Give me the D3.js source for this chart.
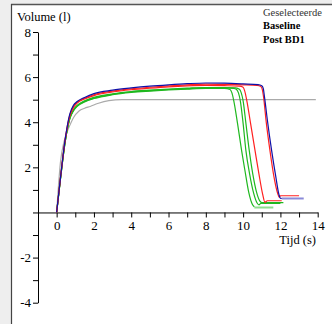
<!DOCTYPE html>
<html>
<head>
<meta charset="utf-8">
<script src="https://cdn.jsdelivr.net/npm/d3@7"></script>
<style>
  body { margin: 0; background: #eeeeee; }
</style>
</head>
<body>
<svg id="chart" width="332" height="324"></svg>
<script>
// tick values
const xTicks = d3.range(0, 15);
const yTicks = d3.range(-4, 9);

// predicted curve (grey)
const greyTime = [0, 0.1, 0.2, 0.4, 0.7, 0.9, 1.2, 1.5, 1.8, 2.2, 2.8, 3.5, 13.9];
const greyVol = [0, 1.2, 2.2, 3.15, 3.85, 4.2, 4.5, 4.62, 4.7, 4.83, 4.96, 5.0, 5.0];

// baseline curves
const blueTime = [0, 0.2, 0.45, 0.7, 0.9, 1.1, 1.5, 2, 3, 4, 5, 6, 7, 8, 9, 10, 10.8, 11.0, 11.08, 11.15, 11.3, 11.53, 11.75, 11.92, 12.0, 12.07];
const blueVol = [0, 1.5, 3.2, 4.35, 4.75, 4.92, 5.1, 5.27, 5.42, 5.52, 5.6, 5.66, 5.71, 5.74, 5.73, 5.7, 5.67, 5.62, 5.5, 5.1, 4.1, 2.74, 1.6, 0.8, 0.63, 0.62];
const blueTailTime = [12.07, 13.25];
const blueTailVol = [0.62, 0.62];

const redATime = [0, 0.2, 0.45, 0.7, 0.9, 1.1, 1.5, 2, 3, 4, 5, 6, 7, 8, 9, 10, 10.75, 10.95, 11.03, 11.1, 11.22, 11.44, 11.65, 11.85, 11.94, 12.0, 13.0];
const redAVol = [0, 1.5, 3.2, 4.3, 4.7, 4.88, 5.06, 5.22, 5.38, 5.48, 5.55, 5.61, 5.66, 5.69, 5.68, 5.66, 5.63, 5.58, 5.45, 5.1, 4.15, 2.74, 1.6, 0.85, 0.67, 0.74, 0.74];

const redBTime = [0, 0.2, 0.45, 0.7, 0.9, 1.1, 1.5, 2, 3, 4, 5, 6, 7, 8, 9, 9.8, 10.0, 10.08, 10.2, 10.4, 10.64, 10.85, 11.05, 11.17, 11.3, 12.07];
const redBVol = [0, 1.5, 3.15, 4.25, 4.65, 4.85, 5.03, 5.18, 5.34, 5.44, 5.51, 5.57, 5.61, 5.63, 5.62, 5.6, 5.55, 5.4, 4.95, 3.95, 2.74, 1.7, 0.8, 0.45, 0.52, 0.52];

// post BD1 curves
const green1Time = [0, 0.2, 0.45, 0.7, 0.9, 1.1, 1.5, 2, 3, 4, 5, 6, 7, 8, 9.0, 9.3, 9.4, 9.5, 9.7, 9.92, 10.1, 10.3, 10.5, 10.6];
const green1Vol = [0, 1.45, 3.1, 4.15, 4.5, 4.7, 4.9, 5.05, 5.22, 5.32, 5.38, 5.43, 5.47, 5.5, 5.5, 5.45, 5.3, 4.95, 3.95, 2.74, 1.85, 0.9, 0.35, 0.25];
const green1TailTime = [10.6, 11.62];
const green1TailVol = [0.22, 0.22];

const green2Time = [0, 0.2, 0.45, 0.7, 0.9, 1.1, 1.5, 2, 3, 4, 5, 6, 7, 8, 9.0, 9.5, 9.65, 9.75, 9.85, 10.0, 10.15, 10.35, 10.55, 10.75, 10.85, 10.95, 12.0];
const green2Vol = [0, 1.45, 3.1, 4.15, 4.52, 4.72, 4.92, 5.07, 5.24, 5.34, 5.4, 5.45, 5.49, 5.52, 5.52, 5.5, 5.45, 5.3, 4.95, 3.95, 2.74, 1.7, 0.9, 0.42, 0.34, 0.4, 0.4];

const green3Time = [0, 0.2, 0.45, 0.7, 0.9, 1.1, 1.5, 2, 3, 4, 5, 6, 7, 8, 9.0, 9.6, 9.8, 9.9, 10.0, 10.15, 10.33, 10.52, 10.72, 10.9, 11.0, 12.16];
const green3Vol = [0, 1.45, 3.1, 4.15, 4.55, 4.75, 4.95, 5.1, 5.26, 5.36, 5.42, 5.47, 5.51, 5.54, 5.54, 5.52, 5.46, 5.3, 4.95, 3.95, 2.74, 1.7, 0.9, 0.5, 0.44, 0.44];

const svg = d3.select('#chart');

// panel
svg.append('rect').attr('x', 11).attr('y', 4).attr('width', 321).attr('height', 320).style('fill', '#fff');
svg.append('line').attr('x1', 11).attr('y1', 4.5).attr('x2', 332).attr('y2', 4.5).style('stroke', '#555').style('stroke-width', 1.5);
svg.append('line').attr('x1', 11.5).attr('y1', 4).attr('x2', 11.5).attr('y2', 324).style('stroke', '#444').style('stroke-width', 1.2);

const x = d3.scaleLinear().domain([-1, 14]).range([38, 317.7]);
const y = d3.scaleLinear().domain([-4, 8]).range([302.7, 32]);

const xAxis = d3.axisBottom(x)
  .tickValues(xTicks)
  .tickSize(5)
  .tickSizeOuter(0)
  .tickPadding(3)
  .tickFormat(d => (d % 2 === 0 ? String(d) : ''));

const yAxis = d3.axisLeft(y)
  .tickValues(yTicks)
  .tickSize(5)
  .tickSizeOuter(0)
  .tickPadding(2)
  .tickFormat(d => (d % 2 === 0 && d !== 0 ? String(d) : ''));

const gx = svg.append('g').attr('transform', `translate(0,${y(0)})`).call(xAxis);
const gy = svg.append('g').attr('transform', `translate(${x(-1)},0)`).call(yAxis);
[gx, gy].forEach(g => {
  g.attr('font-family', null).attr('font-size', null);
  g.selectAll('text').attr('font-family', "'Liberation Serif'").attr('font-size', 13).style('fill', '#000');
  g.selectAll('line, path').style('stroke', '#000');
});

// axis titles
svg.append('text').attr('x', 17).attr('y', 20.5).text('Volume (l)')
  .attr('font-family', "'Liberation Serif'").attr('font-size', 12.5);
svg.append('text').attr('x', 316).attr('y', 243.5).attr('text-anchor', 'end').text('Tijd (s)')
  .attr('font-family', "'Liberation Serif'").attr('font-size', 12.5);

// legend
svg.append('text').attr('x', 263).attr('y', 15.5).text('Geselecteerde')
  .attr('font-family', "'Liberation Serif'").attr('font-size', 10.5).attr('fill', '#333');
svg.append('text').attr('x', 263).attr('y', 29).text('Baseline')
  .attr('font-family', "'Liberation Serif'").attr('font-size', 10.5).attr('font-weight', 'bold');
svg.append('text').attr('x', 263).attr('y', 43.3).text('Post BD1')
  .attr('font-family', "'Liberation Serif'").attr('font-size', 10.5).attr('font-weight', 'bold');

const line = d3.line()
  .x(d => x(d[0]))
  .y(d => y(d[1]))
  .curve(d3.curveMonotoneX);

function drawCurve(times, vols, color, width) {
  svg.append('path')
    .datum(d3.zip(times, vols))
    .attr('d', line)
    .style('fill', 'none')
    .style('stroke', color)
    .style('stroke-width', width);
}

drawCurve(greyTime, greyVol, '#aaaaaa', 1.2);
drawCurve(green1TailTime, green1TailVol, '#8ede8e', 2);
drawCurve(blueTailTime, blueTailVol, '#8a8ad8', 2);
drawCurve(green3Time, green3Vol, '#1fb81f', 1.2);
drawCurve(green2Time, green2Vol, '#1fb81f', 1.2);
drawCurve(green1Time, green1Vol, '#1fb81f', 1.2);
drawCurve(redBTime, redBVol, '#ff2020', 1.2);
drawCurve(redATime, redAVol, '#ff2020', 1.2);
drawCurve(blueTime, blueVol, '#1010a8', 1.2);

// force text layout
svg.selectAll('text').each(function () { this.getComputedTextLength(); });
</script>
</body>
</html>
